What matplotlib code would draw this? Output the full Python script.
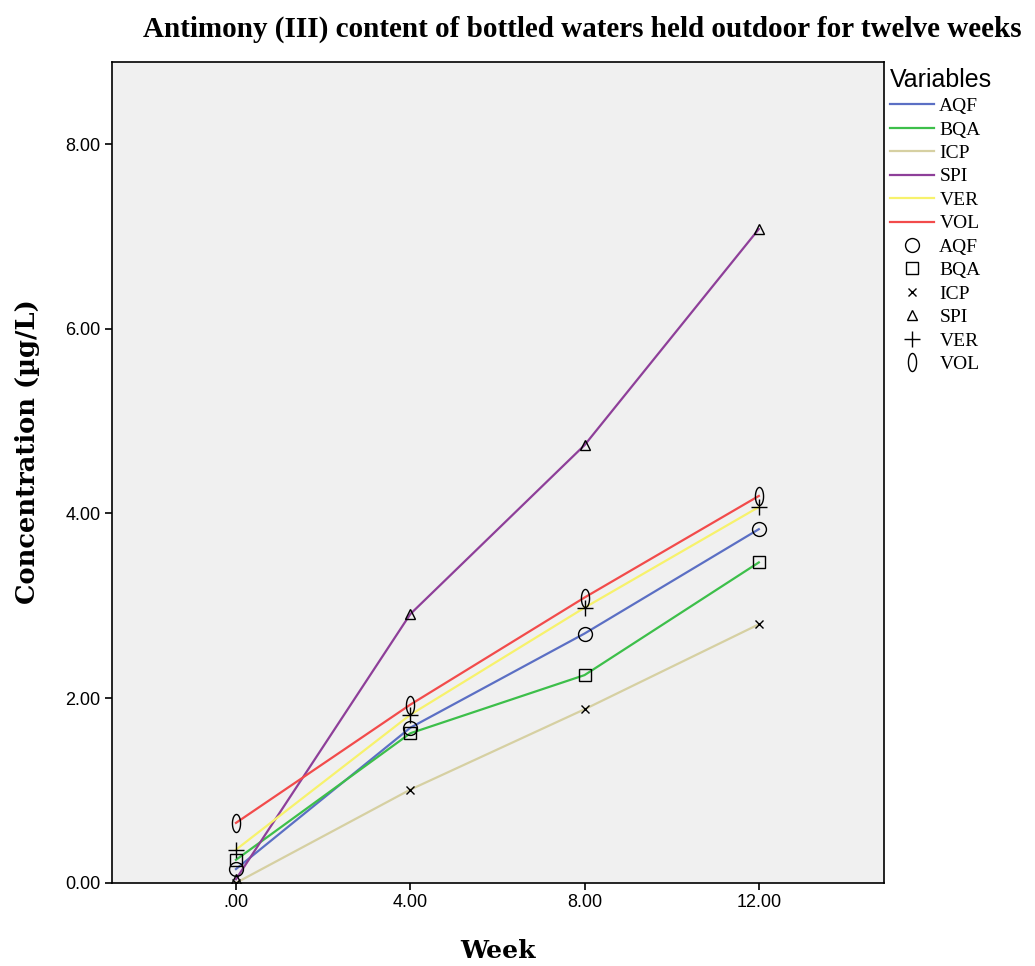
import numpy as np
import matplotlib
matplotlib.use('Agg')
import matplotlib.pyplot as plt
from matplotlib.path import Path
from matplotlib.lines import Line2D

# ---- data ----
weeks = [0, 4, 8, 12]
series_names = ['AQF', 'BQA', 'ICP', 'SPI', 'VER', 'VOL']
aqf = [0.15, 1.68, 2.70, 3.83]
bqa = [0.25, 1.62, 2.25, 3.47]
icp = [0.00, 1.01, 1.88, 2.80]
spi = [0.04, 2.91, 4.74, 7.08]
ver = [0.36, 1.82, 2.98, 4.07]
vol = [0.65, 1.93, 3.09, 4.19]
yticks = [0, 2, 4, 6, 8]
xticks = [0, 4, 8, 12]

values = [aqf, bqa, icp, spi, ver, vol]
line_colors = ['#5b6fc4', '#3dbf4a', '#d6d0a2', '#8e3f99', '#f7f26c', '#f24b4b']

# narrow "0" style marker for VOL
t = np.linspace(0, 2 * np.pi, 60)
ellipse = Path(np.column_stack([0.45 * np.cos(t), np.sin(t)]), closed=True)
markers = [
    dict(marker='o', ms=10),
    dict(marker='s', ms=9),
    dict(marker='x', ms=6),
    dict(marker='^', ms=7),
    dict(marker='+', ms=11),
    dict(marker=ellipse, ms=13),
]

serif = ['DejaVu Serif']
lserif = ['Liberation Serif', 'DejaVu Serif']
sans = ['Liberation Sans', 'DejaVu Sans']

fig = plt.figure(figsize=(10.35, 9.66), dpi=100)
ax = fig.add_axes([0.108, 0.086, 0.746, 0.850])
ax.set_facecolor('#f0f0f0')

for vals, c in zip(values, line_colors):
    ax.plot(weeks, vals, color=c, lw=1.6, zorder=2)
for vals, m in zip(values, markers):
    ax.plot(weeks, vals, linestyle='none', marker=m['marker'], ms=m['ms'],
            mfc='none', mec='black', mew=1.0, zorder=3)

ax.set_xlim(-2.85, 14.87)
ax.set_ylim(0, 8.89)
ax.set_xticks(xticks)
ax.set_xticklabels(['.00', '4.00', '8.00', '12.00'], fontfamily=sans, fontsize=13)
ax.set_yticks(yticks)
ax.set_yticklabels([f'{v:.2f}' for v in yticks], fontfamily=sans, fontsize=13)
ax.tick_params(direction='out', length=5, width=1.2, color='black', pad=3)
for sp in ax.spines.values():
    sp.set_linewidth(1.2)
    sp.set_color('black')

ax.set_xlabel('Week', fontfamily=serif, fontweight='bold', fontsize=18, labelpad=20)
ax.set_ylabel('Concentration (\u00b5g/L)', fontfamily=serif, fontweight='bold',
              fontsize=18.5)
ax.yaxis.set_label_coords(-0.093, 0.525)
fig.text(0.5625, 0.97, 'Antimony (III) content of bottled waters held outdoor for twelve weeks',
         ha='center', va='center', fontfamily=lserif, fontweight='bold', fontsize=21)

# legend: lines first, then markers
handles = [Line2D([], [], color=c, lw=1.6) for c in line_colors]
handles += [Line2D([], [], linestyle='none', marker=m['marker'], ms=m['ms'],
                   mfc='none', mec='black', mew=1.0) for m in markers]
labels = series_names + series_names
leg = ax.legend(handles, labels, loc='upper left', bbox_to_anchor=(1.0, 1.0),
                frameon=False, title='Variables', alignment='left',
                prop={'family': lserif, 'size': 14}, handlelength=2.3,
                handletextpad=0.25, labelspacing=0.3, borderaxespad=0.1,
                borderpad=0.2)
leg.get_title().set_fontfamily(sans)
leg.get_title().set_fontsize(18)

fig.savefig('out.png', dpi=100, facecolor='white')
